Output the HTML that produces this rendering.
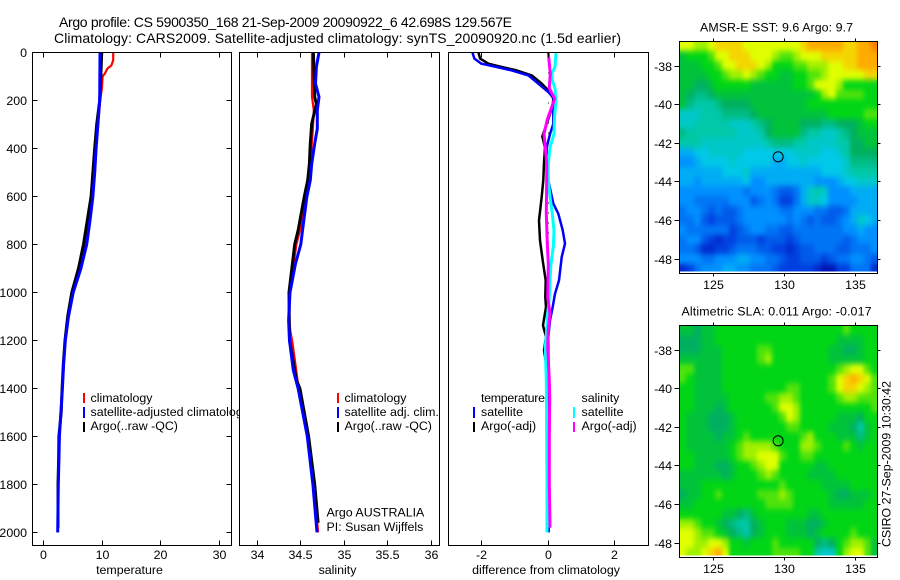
<!DOCTYPE html>
<html lang="en">
<head>
<meta charset="utf-8">
<title>Argo profile CS 5900350_168</title>
<style>
html,body{margin:0;padding:0;background:#fff;width:900px;height:580px;overflow:hidden}
svg{display:block}
text{font-family:"Liberation Sans",sans-serif;font-size:12.4px;fill:#000}
.title{font-size:14px}
</style>
</head>
<body>
<svg id="figure" xmlns="http://www.w3.org/2000/svg" width="900" height="580" viewBox="0 0 900 580">
  <defs>
    <filter id="field-smooth" x="-5%" y="-5%" width="110%" height="110%" color-interpolation-filters="sRGB">
      <feGaussianBlur in="SourceGraphic" stdDeviation="2.2 3" result="soft"/>
      <feMerge>
        <feMergeNode in="SourceGraphic"/>
        <feMergeNode in="soft"/>
      </feMerge>
    </filter>
  </defs>
  <rect x="0" y="0" width="900" height="580" fill="#fff"/>
  <text class="title" x="59" y="27" textLength="453" lengthAdjust="spacing">Argo profile: CS 5900350_168 21-Sep-2009 20090922_6 42.698S 129.567E</text>
  <text class="title" x="54" y="43" textLength="567" lengthAdjust="spacing">Climatology: CARS2009. Satellite-adjusted climatology: synTS_20090920.nc (1.5d earlier)</text>

  <g id="temperature-panel">
    <g>
      <rect x="83" y="393" width="2" height="10" fill="#f00"/>
      <rect x="83" y="407" width="2" height="11" fill="#00f"/>
      <rect x="83" y="422" width="2" height="10" fill="#000"/>
      <text x="90.5" y="402">climatology</text>
      <text x="90.5" y="416">satellite-adjusted climatology</text>
      <text x="90.5" y="430">Argo(..raw -QC)</text>
    </g>
    <text x="129.5" y="574" text-anchor="middle">temperature</text>
  </g>

  <g id="salinity-panel">
    <rect x="239" y="52" width="201" height="494" fill="#fff"/>
    <g>
      <rect x="337" y="393" width="2" height="10" fill="#f00"/>
      <rect x="337" y="407" width="2" height="11" fill="#00f"/>
      <rect x="337" y="422" width="2" height="10" fill="#000"/>
      <text x="344.5" y="402">climatology</text>
      <text x="344.5" y="416">satellite adj. clim.</text>
      <text x="344.5" y="430">Argo(..raw -QC)</text>
    </g>
    <text x="326.5" y="516.5">Argo AUSTRALIA</text>
    <text x="326.5" y="531">PI: Susan Wijffels</text>
    <text x="337.5" y="574" text-anchor="middle">salinity</text>
  </g>

  <g id="difference-panel">
    <rect x="448" y="52" width="201" height="494" fill="#fff"/>
    <g>
      <text x="481" y="402" textLength="64" lengthAdjust="spacing">temperature</text>
      <text x="581.5" y="402">salinity</text>
      <rect x="473" y="407" width="2" height="11" fill="#00f"/>
      <rect x="473" y="422" width="2" height="10" fill="#000"/>
      <rect x="573" y="407" width="2" height="11" fill="#0ff"/>
      <rect x="573" y="422" width="2" height="10" fill="#f0f"/>
      <text x="481" y="416">satellite</text>
      <text x="481" y="430">Argo(-adj)</text>
      <text x="581.5" y="416">satellite</text>
      <text x="581.5" y="430">Argo(-adj)</text>
    </g>
    <text x="546" y="574" text-anchor="middle">difference from climatology</text>
  </g>

  <g id="sst-map">
    <text x="700" y="31.5" textLength="153" lengthAdjust="spacing">AMSR-E SST: 9.6 Argo: 9.7</text>
  </g>
  <g id="sla-map">
    <text x="681.5" y="315.5" textLength="190" lengthAdjust="spacing">Altimetric SLA: 0.011  Argo: -0.017</text>
  </g>
  <text transform="translate(890.5,547) rotate(-90)" textLength="166" lengthAdjust="spacing">CSIRO 27-Sep-2009 10:30:42</text>
</svg>

<script>
// ---------- axis ticks ----------
const depthTicks = [0,200,400,600,800,1000,1200,1400,1600,1800,2000];
const temperatureTicks = [0,10,20,30];
const salinityTicks = [34,34.5,35,35.5,36];
const salinityTickLabels = ['34','34.5','35','35.5','36'];
const differenceTicks = [-2,0,2];
const lonTicks = [125,130,135];
const latTicks = [-38,-40,-42,-44,-46,-48];

// ---------- float position ----------
const floatLon = 129.567;
const floatLat = -42.698;

// ---------- temperature profiles ----------
const tempClimDepth = [0,33,54,68,88,100,145,200,300,400,500,600,700,800,900,1000,1100,1200,1300,1400,1600,1800,2000];
const tempClimValue = [11.9,11.9,11.6,10.9,10.5,10.1,10.0,9.7,9.3,9.0,8.8,8.3,7.6,7.0,6.1,4.9,4.3,3.8,3.5,3.25,2.75,2.55,2.45];
const tempArgoDepth = [0,100,200,300,400,500,600,700,800,900,1000,1100,1200,1300,1400,1500,1600,1700,1800,1900,1980];
const tempArgoValue = [9.95,9.8,9.6,9.1,8.75,8.45,8.15,7.5,6.85,6.0,4.85,4.15,3.7,3.4,3.2,3.05,2.65,2.6,2.5,2.5,2.5];
const tempSatDepth = [0,200,300,400,500,600,700,800,900,1000,1100,1200,1300,1400,1500,1600,1700,1800,1900,2000];
const tempSatValue = [9.66,9.6,9.3,9.0,8.75,8.45,7.95,7.4,6.4,5.1,4.3,3.75,3.45,3.25,3.0,2.75,2.65,2.55,2.5,2.45];

// ---------- salinity profiles ----------
const salClimDepth = [0,186,241,318,464,603,742,800,1000,1100,1160,1200,1290,1400,1600,1800,2000];
const salClimValue = [34.63,34.63,34.65,34.64,34.61,34.56,34.49,34.45,34.37,34.365,34.38,34.40,34.435,34.475,34.58,34.65,34.70];
const salArgoDepth = [0,186,215,297,380,464,533,603,742,800,1000,1200,1365,1400,1600,1800,1960];
const salArgoValue = [34.645,34.66,34.68,34.626,34.61,34.6,34.58,34.54,34.47,34.43,34.365,34.37,34.45,34.49,34.59,34.66,34.70];
const salSatDepth = [0,61,130,186,241,318,380,464,533,603,742,800,880,1000,1115,1200,1324,1400,1600,1800,2000];
const salSatValue = [34.71,34.68,34.67,34.71,34.69,34.69,34.66,34.626,34.61,34.57,34.52,34.5,34.44,34.376,34.36,34.37,34.414,34.47,34.575,34.64,34.687];

// ---------- differences from climatology ----------
const diffTempArgoDepth = [0,26,47,61,75,96,130,165,193,222,298,350,396,460,533,602,700,783,867,950,1020,1061,1137,1186,1241,1300];
const diffTempArgoValue = [-2.09,-2.04,-1.79,-1.39,-0.94,-0.49,-0.19,0.06,0.16,0.14,-0.04,-0.17,-0.09,-0.12,-0.14,-0.19,-0.27,-0.24,-0.16,-0.07,-0.08,-0.06,-0.15,-0.06,-0.12,-0.05];
const diffTempSatDepth = [0,26,47,61,75,96,130,165,193,222,298,340,396,464,533,630,672,741,797,853,950,1006,1061,1117,1186,1400,2000];
const diffTempSatValue = [-2.27,-2.21,-2.0,-1.54,-1.09,-0.59,-0.29,0.01,0.18,0.16,0.16,0.06,-0.04,-0.04,0.01,0.16,0.31,0.44,0.51,0.41,0.33,0.21,0.14,0.06,0.01,0.02,0.02];
const diffSalSatDepth = [0,61,88,115,150,207,256,340,396,464,533,602,672,741,811,880,950,1020,1089,1158,1228,1367,1600,1800,2000];
const diffSalSatValue = [0.24,0.21,0.11,0.13,0.21,0.24,0.2,0.18,0.06,0.01,0.01,0.06,0.13,0.18,0.16,0.09,0.06,0.04,-0.01,-0.04,-0.08,-0.05,-0.04,-0.03,-0.03];
const diffSalArgoDepth = [0,47,88,150,193,240,280,340,396,464,533,672,797,880,1020,1089,1158,1228,1367,1440,1600,1800,1980];
const diffSalArgoValue = [0.01,0.04,0.07,0.04,0.2,0.08,-0.02,-0.12,-0.08,-0.04,-0.04,-0.05,-0.02,0.01,-0.01,0.06,0.01,-0.01,0.04,0.05,0.04,0.04,0.06];

// ---------- gridded fields: colour-scale level per 0.5 degree cell, north to south ----------
const sstLevels = [
[17,17,16,16,17,18,18,18,18,17,17,17,17,17,17,17,17,18,19,19,19,19,19,18,18,19,19,20],
[13,14,14,14,15,17,17,18,18,18,17,17,17,16,15,15,16,17,17,17,18,18,18,18,18,19,19,19],
[13,13,13,14,14,15,17,17,18,18,18,17,16,14,14,14,15,15,16,16,16,17,17,18,18,19,19,19],
[13,13,13,13,14,14,15,16,16,17,16,15,14,14,13,13,14,14,15,15,16,17,17,17,17,17,18,18],
[13,13,12,12,13,14,14,14,14,14,13,13,13,13,13,13,14,14,15,17,17,17,16,14,14,14,14,14],
[13,12,11,11,12,13,13,13,13,13,13,13,13,13,13,13,13,13,13,14,16,17,15,15,15,15,14,14],
[13,11,10,10,10,11,12,12,12,12,13,13,13,13,13,13,13,13,14,14,14,14,14,14,14,14,14,14],
[9,9,9,10,10,10,11,11,11,11,12,13,13,13,13,13,13,13,13,13,13,14,14,14,14,14,15,15],
[9,9,10,10,10,10,10,9,9,9,10,11,12,13,13,13,13,12,12,12,11,11,12,12,12,13,14,14],
[11,10,10,10,10,10,10,10,9,9,9,10,12,13,13,13,13,11,10,10,9,9,10,11,12,13,13,13],
[10,10,10,9,9,9,9,9,9,9,9,9,10,11,11,11,10,10,9,9,9,9,10,10,12,12,13,13],
[7,7,8,8,9,9,9,9,9,8,8,8,8,8,8,8,9,9,9,9,8,8,9,10,12,12,12,12],
[6,6,7,8,8,8,8,9,8,8,8,8,8,7,7,8,8,9,8,8,8,8,8,9,11,11,11,11],
[7,7,7,7,7,7,8,8,8,9,7,7,7,7,7,7,7,7,7,7,8,8,8,9,10,10,10,10],
[7,7,6,7,7,7,7,7,7,8,6,6,7,7,7,7,7,7,7,6,6,6,7,8,8,9,9,9],
[6,6,6,6,6,6,6,6,6,5,6,6,6,5,4,4,5,7,9,10,9,6,6,6,7,7,7,7],
[6,6,5,5,5,5,5,6,6,6,4,5,6,5,3,3,5,7,9,9,8,6,6,6,6,7,7,7],
[5,6,6,5,4,5,4,4,5,6,6,6,6,6,5,5,6,6,6,5,5,4,4,5,7,7,7,7],
[5,5,6,4,3,4,4,4,5,6,6,6,6,6,6,5,6,5,4,5,4,4,5,6,7,9,8,7],
[6,5,5,5,5,5,5,3,4,5,6,6,5,5,4,4,5,5,5,5,5,5,5,6,6,7,6,6],
[5,6,6,4,3,2,3,3,4,4,4,3,4,4,4,3,4,5,5,5,5,5,5,4,5,6,6,6],
[5,5,4,2,2,3,3,4,5,5,5,4,4,3,3,2,3,4,4,5,5,5,4,4,5,5,5,6],
[6,6,6,5,5,6,6,6,7,7,6,6,5,5,4,3,3,4,4,4,3,4,5,5,6,6,5,4],
[2,3,5,6,6,6,7,7,6,6,5,5,5,4,3,3,3,3,3,2,1,1,3,3,5,5,5,2]
];
const slaLevels = [
[13,13,12,13,13,14,14,14,14,14,14,14,14,14,14,14,14,14,14,14,14,14,14,15,14,14,14,14],
[12,12,12,13,13,14,14,14,14,14,14,14,14,14,14,14,14,14,14,14,14,14,13,13,13,13,14,14],
[12,12,12,13,13,13,14,14,14,14,14,15,15,14,14,14,14,14,14,14,14,13,13,12,12,13,14,14],
[13,13,13,13,13,13,14,14,14,14,14,15,16,14,14,14,14,14,14,14,14,13,13,13,13,13,14,14],
[15,15,13,13,13,13,14,14,14,14,14,14,14,14,14,14,14,14,14,14,14,14,15,16,17,17,15,14],
[15,14,13,13,13,13,14,14,14,14,14,14,14,14,14,14,14,14,14,14,14,15,17,18,19,18,17,15],
[14,14,13,13,13,13,14,14,14,14,14,14,14,14,14,15,15,14,14,14,14,15,17,18,18,17,16,15],
[14,14,13,13,13,13,13,14,14,14,14,14,15,15,16,16,15,14,14,14,14,14,15,16,16,15,15,15],
[14,14,13,13,13,12,13,14,14,14,14,14,14,15,17,17,16,14,14,14,14,14,14,14,14,14,14,15],
[14,13,13,13,12,12,12,13,14,14,14,14,14,14,15,17,16,14,14,14,14,14,13,13,13,12,14,14],
[14,13,13,13,12,12,12,13,14,14,14,14,14,14,14,15,15,14,14,14,14,13,13,13,12,10,13,14],
[14,13,13,13,13,12,13,13,14,15,14,14,14,14,14,14,14,15,16,14,14,14,13,13,13,11,13,14],
[14,13,13,13,13,13,13,14,15,16,16,16,16,15,14,14,14,16,16,15,14,14,14,15,14,13,14,14],
[14,14,13,13,13,13,13,14,15,16,16,17,17,17,15,14,14,15,15,14,14,14,14,14,14,14,14,14],
[14,14,13,13,13,12,12,13,14,14,15,16,17,17,14,14,14,14,14,13,13,14,14,14,14,14,14,14],
[13,13,13,13,13,13,12,13,14,14,14,15,16,15,14,14,14,14,13,13,13,13,14,14,14,14,14,14],
[13,13,13,14,14,14,14,14,14,14,14,14,14,14,15,14,14,14,14,14,13,13,13,13,14,14,14,14],
[12,13,13,14,14,15,14,14,14,14,14,15,15,15,16,15,14,14,14,14,14,13,12,12,13,13,13,14],
[13,13,14,14,14,14,14,14,14,14,14,14,15,15,15,15,14,14,14,14,14,13,13,13,13,13,14,14],
[14,14,14,14,14,14,13,13,12,11,13,14,14,14,14,14,14,14,13,13,14,14,14,14,14,14,14,14],
[16,16,15,14,14,13,12,11,10,10,12,13,14,14,14,13,13,13,12,12,13,14,14,14,14,14,14,14],
[17,17,16,15,15,14,13,12,11,10,12,13,14,14,14,13,13,13,12,13,14,14,14,14,15,14,14,14],
[17,17,16,16,17,17,16,14,14,13,14,14,14,15,14,14,14,14,14,12,11,12,14,15,16,16,15,13],
[17,16,16,17,18,19,17,14,14,14,14,14,14,15,15,15,15,14,14,10,9,9,14,16,17,17,15,13]
];

// ---------- helpers ----------
const SVG_NS = 'http://www.w3.org/2000/svg';
function add(parent, tag, attrs) {
  const node = document.createElementNS(SVG_NS, tag);
  for (const key in attrs) node.setAttribute(key, attrs[key]);
  parent.appendChild(node);
  return node;
}
function linear(domain0, pixel0, pixelsPerUnit) {
  return function (v) { return pixel0 + (v - domain0) * pixelsPerUnit; };
}
function crisp(v) { return Math.round(v - 0.5) + 0.5; }

const depthY = linear(0, 52.4, 0.24);
const temperatureX = linear(0, 43.3, 5.87);
const salinityX = linear(34, 257.3, 86.9);
const differenceX = linear(0, 548, 33.3);
const lonX = linear(125, 713.3, 14.2);

function drawProfile(group, depths, values, xScale, colour, width, name) {
  const pts = depths.map(function (d, i) { return xScale(values[i]).toFixed(1) + ',' + depthY(d).toFixed(1); }).join(' ');
  const line = add(group, 'polyline', {points: pts, fill: 'none', stroke: colour, 'stroke-width': width, 'stroke-linejoin': 'round'});
  
  
}

function drawFrame(group, x0, y0, x1, y1, name) {
  const frame = add(group, 'rect', {x: x0, y: y0, width: x1 - x0, height: y1 - y0, fill: 'none', stroke: '#000', 'stroke-width': 1, 'shape-rendering': 'crispEdges'});
  
  
}

function drawTick(group, x1, y1, x2, y2) {
  const tick = add(group, 'line', {x1: x1, y1: y1, x2: x2, y2: y2, stroke: '#000', 'stroke-width': 1, 'shape-rendering': 'crispEdges'});
  
  
}

function drawLabel(group, x, y, anchor, content, name) {
  const label = add(group, 'text', {x: x, y: y, 'text-anchor': anchor});
  label.textContent = content;
  
  
}

function drawXAxis(group, ticks, labels, xScale) {
  ticks.forEach(function (t, i) {
    const x = crisp(xScale(t));
    drawTick(group, x, 52.5, x, 57.5);
    drawTick(group, x, 540.5, x, 545.5);
    drawLabel(group, x, 559, 'middle', labels[i], 'x-tick-label');
  });
}

// ---------- colour scale for the maps ----------
const scaleLevels = [0,3,6,8,10,12,14,16,17,18.5,20];
const scaleColours = [[0,0,160],[0,64,224],[0,144,255],[0,200,232],[0,200,168],[0,176,96],[0,214,22],[160,240,0],[224,255,0],[255,192,0],[255,128,0]];
function levelColour(v) {
  let i = 0;
  while (i < scaleLevels.length - 2 && v > scaleLevels[i + 1]) i++;
  const f = Math.max(0, Math.min(1, (v - scaleLevels[i]) / (scaleLevels[i + 1] - scaleLevels[i])));
  const a = scaleColours[i], b = scaleColours[i + 1];
  return 'rgb(' + Math.round(a[0] + (b[0] - a[0]) * f) + ',' + Math.round(a[1] + (b[1] - a[1]) * f) + ',' + Math.round(a[2] + (b[2] - a[2]) * f) + ')';
}

function drawMap(group, levels, top, bottom, lat38Y, prefix) {
  const latY = linear(-38, lat38Y, -19.33);
  const left = 679.5, right = 877.5;
  const clipId = prefix + '-clip';
  const defs = add(group, 'defs', {});
  const clip = add(defs, 'clipPath', {id: clipId});
  add(clip, 'rect', {x: left, y: top, width: right - left, height: bottom - top - 2});
  const clipped = add(group, 'g', {'clip-path': 'url(#' + clipId + ')'});
  
  
  const cells = add(clipped, 'g', {filter: 'url(#field-smooth)'});
  
  
  const lonStart = 122.61, lonStep = 0.5, latStart = -36.72, latStep = 0.5;
  levels.forEach(function (row, r) {
    const yA = Math.round(latY(latStart - r * latStep));
    const yB = Math.round(latY(latStart - (r + 1) * latStep));
    row.forEach(function (v, c) {
      const xA = Math.round(lonX(lonStart + c * lonStep));
      const xB = Math.round(lonX(lonStart + (c + 1) * lonStep));
      const cell = add(cells, 'rect', {x: xA, y: yA, width: xB - xA, height: yB - yA, fill: levelColour(v), 'shape-rendering': 'crispEdges'});
      
      
    });
  });
  drawFrame(group, left, top, right, bottom, prefix + '-frame');
  lonTicks.forEach(function (t) {
    const x = crisp(lonX(t));
    drawTick(group, x, top - 3, x, top);
    drawTick(group, x, bottom, x, bottom + 3);
    drawLabel(group, x, bottom + 15.5, 'middle', String(t), 'longitude-tick-label');
  });
  latTicks.forEach(function (t) {
    const y = crisp(latY(t));
    drawTick(group, left - 5, y, left, y);
    drawTick(group, right, y, right + 3, y);
    drawLabel(group, 672, y + 4.5, 'end', String(t), 'latitude-tick-label');
  });
  const marker = add(group, 'circle', {cx: lonX(floatLon), cy: latY(floatLat), r: 5, fill: 'none', stroke: '#000', 'stroke-width': 1});
  
  
}

// ---------- temperature panel ----------
const tempGroup = document.getElementById('temperature-panel');
drawProfile(tempGroup, tempClimDepth, tempClimValue, temperatureX, '#f00', 2.2, 'temperature-climatology-line');
drawProfile(tempGroup, tempArgoDepth, tempArgoValue, temperatureX, '#000', 3, 'temperature-argo-line');
drawProfile(tempGroup, tempSatDepth, tempSatValue, temperatureX, '#00f', 3, 'temperature-satellite-line');
drawFrame(tempGroup, 32.5, 52.5, 231.5, 545.5, 'temperature-frame');
drawXAxis(tempGroup, temperatureTicks, temperatureTicks.map(String), temperatureX);
depthTicks.forEach(function (d) {
  const y = crisp(depthY(d));
  drawTick(tempGroup, 32.5, y, 37.5, y);
  drawTick(tempGroup, 226.5, y, 231.5, y);
  drawLabel(tempGroup, 27, y + 4.5, 'end', String(d), 'depth-tick-label');
});

// ---------- salinity panel ----------
const salGroup = document.getElementById('salinity-panel');
drawProfile(salGroup, salClimDepth, salClimValue, salinityX, '#f00', 2.2, 'salinity-climatology-line');
drawProfile(salGroup, salArgoDepth, salArgoValue, salinityX, '#000', 3, 'salinity-argo-line');
drawProfile(salGroup, salSatDepth, salSatValue, salinityX, '#00f', 3, 'salinity-satellite-line');
drawFrame(salGroup, 239.5, 52.5, 439.5, 545.5, 'salinity-frame');
drawXAxis(salGroup, salinityTicks, salinityTickLabels, salinityX);

// ---------- difference panel ----------
const diffGroup = document.getElementById('difference-panel');
const zeroLine = add(diffGroup, 'line', {x1: crisp(differenceX(0)), y1: depthY(0), x2: crisp(differenceX(0)), y2: depthY(2000), stroke: '#000', 'stroke-width': 1, 'stroke-dasharray': '1 9', 'shape-rendering': 'crispEdges'});


drawProfile(diffGroup, diffTempArgoDepth, diffTempArgoValue, differenceX, '#000', 2.5, 'difference-temperature-argo-line');
drawProfile(diffGroup, diffTempSatDepth, diffTempSatValue, differenceX, '#00f', 2.5, 'difference-temperature-satellite-line');
drawProfile(diffGroup, diffSalSatDepth, diffSalSatValue, differenceX, '#0ff', 3, 'difference-salinity-satellite-line');
drawProfile(diffGroup, diffSalArgoDepth, diffSalArgoValue, differenceX, '#f0f', 3, 'difference-salinity-argo-line');
drawFrame(diffGroup, 448.5, 52.5, 648.5, 545.5, 'difference-frame');
drawXAxis(diffGroup, differenceTicks, differenceTicks.map(String), differenceX);

// ---------- maps ----------
drawMap(document.getElementById('sst-map'), sstLevels, 41.5, 273.5, 66, 'sst-map');
drawMap(document.getElementById('sla-map'), slaLevels, 325.5, 557.5, 350, 'sla-map');
</script>
</body>
</html>
